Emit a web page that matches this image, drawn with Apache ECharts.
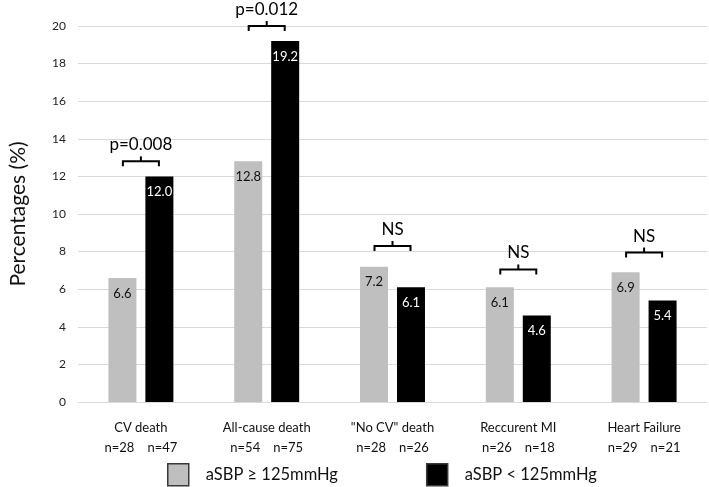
<!DOCTYPE html>
<html><head><meta charset="utf-8">
<script src="https://cdn.jsdelivr.net/npm/echarts@6/dist/echarts.min.js"></script>
<style>html,body{margin:0;padding:0;background:#fff}#c{width:709px;height:487px}</style>
</head><body><div id="c"></div>
<script>
const categories = ['CV death', 'All-cause death', '"No CV" death', 'Reccurent MI', 'Heart Failure'];
const nHigh = [28, 54, 28, 26, 29];
const nLow = [47, 75, 26, 18, 21];
const highValues = [6.6, 12.8, 7.2, 6.1, 6.9];
const lowValues = [12.0, 19.2, 6.1, 4.6, 5.4];
const pLabels = ['p=0.008', 'p=0.012', 'NS', 'NS', 'NS'];
const bracketLevels = [12.8, 20.0, 8.3, 7.05, 7.95];
const seriesNames = ['aSBP ≥ 125mmHg', 'aSBP < 125mmHg'];
const yTicks = {min: 0, max: 20, interval: 2};

const FONT = 'Lato';
const chart = echarts.init(document.getElementById('c'));
const bracketData = categories.map((c, i) => [i, bracketLevels[i], pLabels[i]]);

chart.setOption({
  animation: false,
  textStyle: {fontFamily: FONT},
  grid: {left: 74, right: 2, top: 26, bottom: 85},
  legend: {
    left: 167, top: 463, padding: 0, itemWidth: 21, itemHeight: 22, itemGap: 88,
    icon: 'rect',
    itemStyle: {borderColor: '#3a3a3a', borderWidth: 1.5},
    textStyle: {fontSize: 16.5, color: '#111', fontFamily: FONT, padding: [0, 0, 0, 12]},
    data: seriesNames
  },
  xAxis: {
    type: 'category', data: categories,
    axisLine: {lineStyle: {color: '#d9d9d9', width: 1}},
    axisTick: {show: false},
    axisLabel: {
      margin: 16, interval: 0,
      formatter: (v, i) => '{a|' + v + '}\n{b|n=' + nHigh[i] + '}{s|}{b|n=' + nLow[i] + '}',
      rich: {
        a: {fontSize: 13, color: '#111', fontFamily: FONT, lineHeight: 20},
        b: {fontSize: 13, color: '#111', fontFamily: FONT, lineHeight: 20},
        s: {width: 13, lineHeight: 20}
      }
    }
  },
  yAxis: {
    type: 'value', min: yTicks.min, max: yTicks.max, interval: yTicks.interval,
    name: 'Percentages (%)', nameLocation: 'middle', nameGap: 49, nameRotate: 90,
    nameTextStyle: {fontSize: 21, color: '#111', fontFamily: FONT},
    axisLine: {show: false}, axisTick: {show: false},
    axisLabel: {fontSize: 12, color: '#222', margin: 12, fontFamily: FONT},
    splitLine: {lineStyle: {color: '#d9d9d9', width: 1}}
  },
  series: [
    {
      name: seriesNames[0], type: 'bar', data: highValues, barWidth: 28, barGap: '32%',
      itemStyle: {color: '#bfbfbf', borderWidth: 0},
      label: {show: true, position: 'insideTop', distance: 9, fontSize: 13, color: '#111',
              formatter: p => p.value.toFixed(1), fontFamily: FONT}
    },
    {
      name: seriesNames[1], type: 'bar', data: lowValues, barWidth: 28,
      itemStyle: {color: '#000'},
      label: {show: true, position: 'insideTop', distance: 9, fontSize: 13, color: '#fff',
              formatter: p => p.value.toFixed(1), fontFamily: FONT}
    },
    {
      type: 'custom', data: bracketData, z: 10, silent: true,
      encode: {x: 0, y: 1},
      renderItem: function (params, api) {
        const pt = api.coord([api.value(0), api.value(1)]);
        const half = 18;
        const x0 = pt[0] - half, x1 = pt[0] + half, y = pt[1];
        const label = pLabels[params.dataIndex];
        return {
          type: 'group',
          children: [
            {type: 'polyline', shape: {points: [[x0, y + 5], [x0, y], [x1, y], [x1, y + 5]]},
             style: {stroke: '#000', lineWidth: 2, fill: null}},
            {type: 'line', shape: {x1: pt[0], y1: y, x2: pt[0], y2: y - 5},
             style: {stroke: '#000', lineWidth: 2}},
            {type: 'text', x: pt[0], y: y - 8,
             style: {text: label, fontSize: 17, fontFamily: FONT, fill: '#000',
                     align: 'center', verticalAlign: 'bottom'}}
          ]
        };
      }
    }
  ]
});
</script></body></html>
